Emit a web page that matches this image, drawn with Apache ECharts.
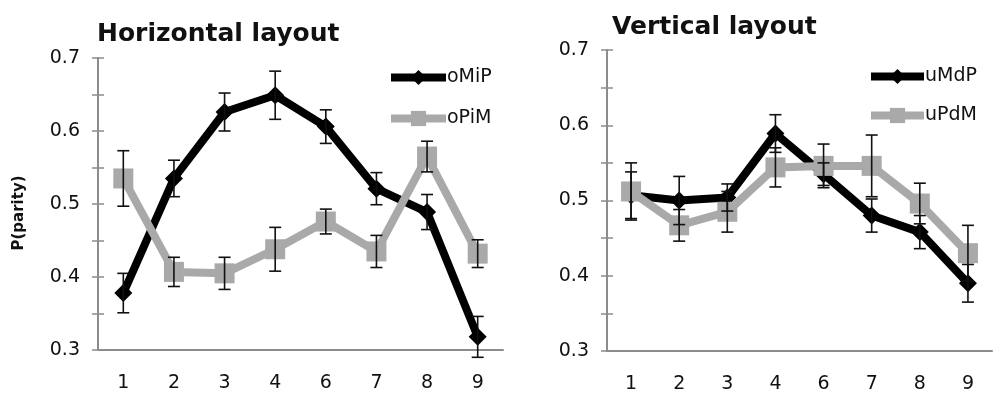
<!DOCTYPE html>
<html><head><meta charset="utf-8">
<script src="https://cdn.jsdelivr.net/npm/echarts@6/dist/echarts.min.js"></script>
<style>html,body{margin:0;padding:0;background:#fff}#c{width:993px;height:398px}</style>
</head><body><div id="c"></div>
<script>
var categories = ['1','2','3','4','6','7','8','9'];
// Horizontal layout
var oMiP = [0.378,0.535,0.626,0.649,0.606,0.521,0.489,0.318];
var oMiPErr = [0.027,0.025,0.026,0.033,0.023,0.022,0.024,0.028];
var oPiM = [0.535,0.407,0.405,0.438,0.476,0.435,0.565,0.432];
var oPiMErr = [0.038,0.020,0.022,0.030,0.017,0.022,0.021,0.019];
// Vertical layout
var uMdP = [0.507,0.500,0.504,0.589,0.535,0.480,0.458,0.390];
var uMdPErr = [0.031,0.032,0.018,0.025,0.015,0.022,0.022,0.025];
var uPdM = [0.512,0.467,0.485,0.544,0.546,0.546,0.496,0.430];
var uPdMErr = [0.038,0.021,0.027,0.026,0.029,0.041,0.027,0.037];
var yTicks = [0.3,0.4,0.5,0.6,0.7];

var BLACK = '#000000', GRAY = '#a9a9a9', AXIS = '#8c8c8c';
var FONT = '"DejaVu Sans", sans-serif';

function errData(vals, errs){
  return vals.map(function(v,i){ return [i, v-errs[i], v+errs[i]]; });
}
function errSeries(vals, errs, gi){
  return {
    type:'custom', xAxisIndex:gi*2, yAxisIndex:gi*2, z:10, silent:true,
    data: errData(vals, errs),
    renderItem: function(params, api){
      var lo = api.coord([api.value(0), api.value(1)]);
      var hi = api.coord([api.value(0), api.value(2)]);
      var hw = 6;
      var st = {stroke:'#111', lineWidth:1.6};
      return {type:'group', children:[
        {type:'line', shape:{x1:lo[0],y1:lo[1],x2:hi[0],y2:hi[1]}, style:st},
        {type:'line', shape:{x1:lo[0]-hw,y1:lo[1],x2:lo[0]+hw,y2:lo[1]}, style:st},
        {type:'line', shape:{x1:hi[0]-hw,y1:hi[1],x2:hi[0]+hw,y2:hi[1]}, style:st}
      ]};
    }
  };
}
function lineSeries(name, vals, color, symbol, size, gi, z){
  return {
    name:name, type:'line', xAxisIndex:gi*2, yAxisIndex:gi*2, data:vals, z:z,
    symbol:symbol, symbolSize:size, showSymbol:true,
    lineStyle:{color:color, width:8}, itemStyle:{color:color, borderWidth:0},
    emphasis:{disabled:true}, animation:false
  };
}
var grids = [
  {left:98, top:58, width:405, height:292},
  {left:607, top:50, width:385, height:301}
];
var xAxes = [], yAxes = [];
grids.forEach(function(g, gi){
  xAxes.push({type:'category', gridIndex:gi, data:categories, boundaryGap:true,
    axisLine:{lineStyle:{color:AXIS, width:2}}, axisTick:{show:false},
    axisLabel:{color:'#111', fontSize:19, fontFamily:FONT, margin:24}});
  xAxes.push({type:'category', gridIndex:gi, data:categories, show:false});
  yAxes.push({type:'value', gridIndex:gi, position:'left', min:0.3, max:0.7, interval:0.05,
    axisLine:{show:true, lineStyle:{color:AXIS, width:2}},
    axisTick:{show:true, length:6, lineStyle:{color:AXIS, width:1.5}},
    splitLine:{show:false},
    name: gi===0 ? 'P(parity)' : '', nameLocation:'middle', nameGap:71, nameRotate:90,
    nameTextStyle:{fontWeight:'bold', fontSize:15, color:'#111', fontFamily:FONT, padding:[0,18,0,0]},
    axisLabel:{color:'#111', fontSize:19, fontFamily:FONT, margin:18,
      formatter:function(v){
        for (var k=0;k<yTicks.length;k++){ if (Math.abs(v-yTicks[k])<1e-6) return yTicks[k].toFixed(1); }
        return '';
      }}});
  yAxes.push({type:'value', gridIndex:gi, position:'left', offset:0, min:0.3, max:0.7, interval:0.05,
    axisLine:{show:false}, axisLabel:{show:false}, splitLine:{show:false},
    axisTick:{show:true, inside:true, length:6, lineStyle:{color:AXIS, width:1.5}}});
});

var legendText = {fontSize:19, color:'#111', fontFamily:FONT, padding:[0,0,0,-4]};
var option = {
  backgroundColor:'#fff', animation:false,
  title:[
    {text:'Horizontal layout', left:92, top:17, textStyle:{fontSize:25, fontWeight:'bold', color:'#111', fontFamily:FONT}},
    {text:'Vertical layout', left:607, top:10, textStyle:{fontSize:25, fontWeight:'bold', color:'#111', fontFamily:FONT}}
  ],
  grid: grids, xAxis: xAxes, yAxis: yAxes,
  legend:[
    {data:['oMiP','oPiM'], orient:'vertical', left:382, top:63, itemWidth:55, itemHeight:19, itemGap:22,
     lineStyle:{width:8}, textStyle:legendText},
    {data:['uMdP','uPdM'], orient:'vertical', left:862, top:62, itemWidth:53, itemHeight:19, itemGap:20,
     lineStyle:{width:8}, textStyle:legendText}
  ],
  series:[
    lineSeries('oMiP', oMiP, BLACK, 'diamond', 18, 0, 2),
    lineSeries('oPiM', oPiM, GRAY, 'rect', 20, 0, 3),
    lineSeries('uMdP', uMdP, BLACK, 'diamond', 18, 1, 2),
    lineSeries('uPdM', uPdM, GRAY, 'rect', 20, 1, 3),
    errSeries(oMiP, oMiPErr, 0), errSeries(oPiM, oPiMErr, 0),
    errSeries(uMdP, uMdPErr, 1), errSeries(uPdM, uPdMErr, 1)
  ]
};
var chart = echarts.init(document.getElementById('c'), null, {renderer:'canvas'});
chart.setOption(option);
</script></body></html>
